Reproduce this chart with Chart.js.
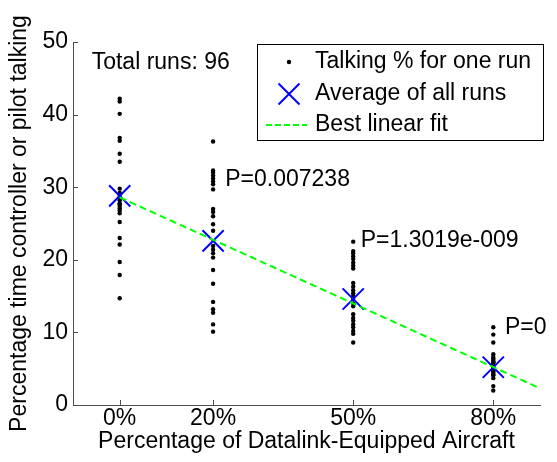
<!DOCTYPE html>
<html>
<head>
<meta charset="utf-8">
<script src="https://cdn.jsdelivr.net/npm/chart.js@4/dist/chart.umd.min.js"></script>
<style>
  html, body { margin: 0; padding: 0; background: #fff; }
  #c { display: block; }
</style>
</head>
<body>
<canvas id="c" width="557" height="462"></canvas>
<script>
// ---- data ----
const categories = ['0%', '20%', '50%', '80%'];
const categoryX = [0, 20, 50, 80];
const runs0 = [42.2, 41.8, 40.1, 36.8, 36.4, 34.6, 33.5, 29.8, 29.2, 28.8, 28.5, 28.2, 27.8, 27.6, 27.4, 27.1, 26.8, 26.4, 25.2, 23.0, 22.1, 19.7, 17.9, 14.7];
const runs20 = [36.3, 32.3, 32.0, 31.6, 31.2, 30.8, 30.4, 29.7, 27.0, 26.6, 26.0, 24.9, 24.0, 21.9, 21.4, 20.9, 20.3, 18.6, 16.7, 14.2, 13.2, 12.7, 11.1, 10.1];
const runs50 = [22.5, 21.2, 20.9, 20.5, 20.1, 19.6, 19.2, 18.8, 16.8, 16.3, 15.8, 15.4, 15.0, 14.6, 14.0, 13.6, 12.5, 12.0, 11.6, 11.1, 10.7, 10.2, 9.8, 8.6];
const runs80 = [10.7, 9.7, 8.6, 7.0, 6.6, 6.4, 6.2, 6.0, 5.9, 5.8, 5.6, 5.5, 5.3, 5.1, 5.0, 4.9, 4.7, 4.6, 4.4, 4.2, 4.1, 3.7, 2.6, 2.0];
const averages = [28.8, 22.6, 14.6, 5.2];
const fitX = [0, 90];
const fitY = [28.6, 2.3];
const yTicks = [0, 10, 20, 30, 40, 50];
const totalRunsText = 'Total runs: 96';
const pLabels = ['P=0.007238', 'P=1.3019e-009', 'P=0'];
const pLabelX = [22.6, 51.6, 82.5];
const pLabelY = [31.0, 22.6, 10.7];
const legendLabels = ['Talking % for one run', 'Average of all runs', 'Best linear fit'];
const xTitle = 'Percentage of Datalink-Equipped Aircraft';
const yTitle = 'Percentage time controller or pilot talking';

// ---- build datasets ----
const allRuns = [runs0, runs20, runs50, runs80];
const runPoints = [];
allRuns.forEach((arr, i) => arr.forEach(v => runPoints.push({ x: categoryX[i], y: v })));
const avgPoints = averages.map((v, i) => ({ x: categoryX[i], y: v }));
const fitPoints = fitX.map((x, i) => ({ x: x, y: fitY[i] }));

const FONT = '"Liberation Sans", Arial, sans-serif';
const FS = 23;
const AXIS_COLOR = '#4d4d4d';

const overlayPlugin = {
  id: 'overlay',
  afterDraw(chart) {
    const ctx = chart.ctx;
    const xs = chart.scales.x, ys = chart.scales.y;
    const area = chart.chartArea;
    ctx.save();
    // inward ticks
    ctx.strokeStyle = AXIS_COLOR;
    ctx.lineWidth = 1;
    ctx.beginPath();
    yTicks.forEach(v => {
      const py = Math.round(ys.getPixelForValue(v)) + 0.5;
      ctx.moveTo(area.left, py); ctx.lineTo(area.left + 5, py);
    });
    categoryX.forEach(v => {
      const px = Math.round(xs.getPixelForValue(v)) + 0.5;
      ctx.moveTo(px, area.bottom); ctx.lineTo(px, area.bottom - 5);
    });
    ctx.stroke();

    // text annotations
    ctx.fillStyle = '#000';
    ctx.font = FS + 'px ' + FONT;
    ctx.textAlign = 'left';
    ctx.textBaseline = 'middle';
    ctx.fillText(totalRunsText, xs.getPixelForValue(-6), ys.getPixelForValue(47.2));
    pLabels.forEach((t, i) => {
      ctx.fillText(t, xs.getPixelForValue(pLabelX[i]), ys.getPixelForValue(pLabelY[i]));
    });

    // legend box
    const bx = 257.5, by = 44.5, bw = 286, bh = 96;
    ctx.fillStyle = '#fff';
    ctx.fillRect(bx, by, bw, bh);
    ctx.strokeStyle = '#000';
    ctx.lineWidth = 1;
    ctx.strokeRect(bx, by, bw, bh);
    const rows = [62, 94, 125];
    const symX = 289;
    // dot
    ctx.fillStyle = '#000';
    ctx.beginPath(); ctx.arc(symX, rows[0], 2.2, 0, Math.PI * 2); ctx.fill();
    // X
    ctx.strokeStyle = '#0000ff'; ctx.lineWidth = 2;
    ctx.beginPath();
    ctx.moveTo(symX - 10.5, rows[1] - 10.5); ctx.lineTo(symX + 10.5, rows[1] + 10.5);
    ctx.moveTo(symX - 10.5, rows[1] + 10.5); ctx.lineTo(symX + 10.5, rows[1] - 10.5);
    ctx.stroke();
    // dashed line
    ctx.strokeStyle = '#00ff00'; ctx.lineWidth = 2;
    ctx.setLineDash([6, 3]);
    ctx.beginPath(); ctx.moveTo(266, rows[2]); ctx.lineTo(307, rows[2]); ctx.stroke();
    ctx.setLineDash([]);
    ctx.fillStyle = '#000';
    legendLabels.forEach((t, i) => ctx.fillText(t, 315, rows[i]));
    ctx.restore();
  }
};

new Chart(document.getElementById('c'), {
  type: 'scatter',
  data: {
    datasets: [
      {
        label: legendLabels[2], type: 'line', data: fitPoints, order: 0,
        borderColor: '#00ff00', borderWidth: 2, borderDash: [7, 4],
        pointRadius: 0, fill: false, tension: 0
      },
      {
        label: legendLabels[1], data: avgPoints, order: 1,
        pointStyle: 'crossRot', pointRadius: 15, pointBorderWidth: 2,
        borderColor: '#0000ff', backgroundColor: '#0000ff'
      },
      {
        label: legendLabels[0], data: runPoints, order: 2,
        pointStyle: 'circle', pointRadius: 2.2, pointBorderWidth: 0,
        backgroundColor: '#000', borderColor: '#000'
      }
    ]
  },
  options: {
    responsive: false,
    animation: false,
    devicePixelRatio: 1,
    layout: { padding: { left: 0, right: 8, top: 42, bottom: 0 } },
    plugins: { legend: { display: false }, tooltip: { enabled: false } },
    scales: {
      x: {
        type: 'linear', min: -10, max: 90,
        afterBuildTicks: s => { s.ticks = categoryX.map(v => ({ value: v })); },
        afterFit: s => { s.height = 57; },
        ticks: {
          autoSkip: false, maxRotation: 0, padding: 0, color: '#000',
          font: { family: FONT, size: FS },
          callback: v => categories[categoryX.indexOf(v)]
        },
        grid: { drawOnChartArea: false, drawTicks: false },
        border: { display: true, color: AXIS_COLOR, width: 1 },
        title: { display: true, text: xTitle, color: '#000', font: { family: FONT, size: FS }, padding: { top: 0, bottom: 7 } }
      },
      y: {
        type: 'linear', min: 0, max: 50,
        afterBuildTicks: s => { s.ticks = yTicks.map(v => ({ value: v })); },
        afterFit: s => { s.width = 73; },
        ticks: { padding: 5, color: '#000', font: { family: FONT, size: FS } },
        grid: { drawOnChartArea: false, drawTicks: false },
        border: { display: true, color: AXIS_COLOR, width: 1 },
        title: { display: true, text: yTitle, color: '#000', font: { family: FONT, size: FS }, padding: { top: 6, bottom: 0 } }
      }
    }
  },
  plugins: [overlayPlugin]
});
</script>
</body>
</html>
